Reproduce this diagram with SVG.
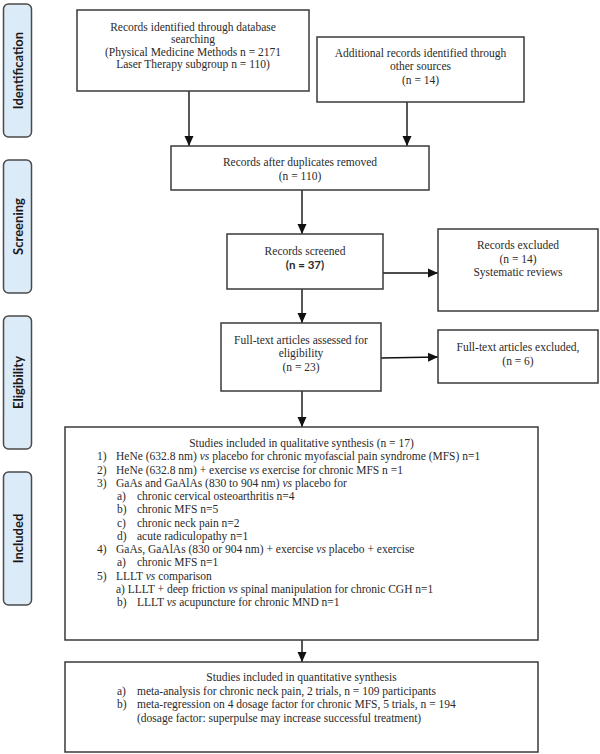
<svg xmlns="http://www.w3.org/2000/svg" width="600" height="754" viewBox="0 0 600 754">
<style>
.bg{fill:#ffffff}
.box{fill:#ffffff;stroke:#3a3a3a;stroke-width:1.5}
.pill{fill:#dcebf8;stroke:#4a4a4a;stroke-width:1.5}
.pl{font-family:Lato,"Open Sans",sans-serif;font-weight:bold;font-size:13px;fill:#1a1a1a}
.t{font-family:"Liberation Serif","Times New Roman",serif;font-size:11.5px;fill:#2a2a2a}
.c{text-anchor:middle}
.b{font-family:Lato,"Open Sans",sans-serif;font-weight:bold}
.i{font-style:italic}
.con{stroke:#111;stroke-width:1.4;fill:none}
</style>
<defs>
<marker id="ah" markerUnits="userSpaceOnUse" markerWidth="10" markerHeight="10" viewBox="0 0 10 10" refX="10" refY="5" orient="auto">
<path d="M0,0.5 L10,5 L0,9.5 Z" fill="#111"/>
</marker>
</defs>
<rect class="bg" x="0" y="0" width="600" height="754"/>

<g id="phase-identification">
<rect class="pill" x="3.5" y="4" width="28" height="133" rx="5"/>
<text class="pl c" transform="translate(18,70.5) rotate(-90)" dominant-baseline="central">Identification</text>
</g>
<g id="phase-screening">
<rect class="pill" x="3.5" y="160" width="28" height="133" rx="5"/>
<text class="pl c" transform="translate(18,226.5) rotate(-90)" dominant-baseline="central">Screening</text>
</g>
<g id="phase-eligibility">
<rect class="pill" x="3.5" y="316" width="28" height="133" rx="5"/>
<text class="pl c" transform="translate(18,382.5) rotate(-90)" dominant-baseline="central">Eligibility</text>
</g>
<g id="phase-included">
<rect class="pill" x="3.5" y="472" width="28" height="133" rx="5"/>
<text class="pl c" transform="translate(18,538.5) rotate(-90)" dominant-baseline="central">Included</text>
</g>

<g id="connectors">
<line class="con" x1="189" y1="91" x2="189" y2="146" marker-end="url(#ah)"/>
<line class="con" x1="407" y1="102" x2="407" y2="146" marker-end="url(#ah)"/>
<line class="con" x1="302" y1="190" x2="302" y2="234" marker-end="url(#ah)"/>
<line class="con" x1="378" y1="273" x2="438" y2="273" marker-end="url(#ah)"/>
<line class="con" x1="302" y1="289" x2="302" y2="323" marker-end="url(#ah)"/>
<line class="con" x1="381" y1="358" x2="438" y2="357" marker-end="url(#ah)"/>
<line class="con" x1="302" y1="391" x2="302" y2="427" marker-end="url(#ah)"/>
<line class="con" x1="302" y1="640" x2="302" y2="662" marker-end="url(#ah)"/>
</g>

<g id="records-database">
<rect class="box" x="77" y="10" width="232" height="81"/>
<text class="t c" x="193" y="31">Records identified through database</text>
<text class="t c" x="193" y="43">searching</text>
<text class="t c" x="193" y="56">(Physical Medicine Methods n = 2171</text>
<text class="t c" x="193" y="68">Laser Therapy subgroup n = 110)</text>
</g>

<g id="records-other">
<rect class="box" x="317" y="37" width="207" height="65"/>
<text class="t c" x="420.5" y="57">Additional records identified through</text>
<text class="t c" x="420.5" y="70">other sources</text>
<text class="t c" x="420.5" y="84">(n = 14)</text>
</g>

<g id="records-deduplicated">
<rect class="box" x="171" y="146" width="258" height="44"/>
<text class="t c" x="300" y="166">Records after duplicates removed</text>
<text class="t c" x="300" y="180">(n = 110)</text>
</g>

<g id="records-screened">
<rect class="box" x="227" y="234" width="156" height="55"/>
<text class="t c" x="305" y="255">Records screened</text>
<text class="t c b" x="305" y="269">(n = 37)</text>
</g>

<g id="records-excluded">
<rect class="box" x="438" y="229" width="160" height="82"/>
<text class="t c" x="518" y="249">Records excluded</text>
<text class="t c" x="518" y="263">(n = 14)</text>
<text class="t c" x="518" y="276">Systematic reviews</text>
</g>

<g id="fulltext-assessed">
<rect class="box" x="221" y="323" width="160" height="68"/>
<text class="t c" x="301" y="344">Full-text articles assessed for</text>
<text class="t c" x="301" y="357">eligibility</text>
<text class="t c" x="301" y="371">(n = 23)</text>
</g>

<g id="fulltext-excluded">
<rect class="box" x="438" y="330" width="160" height="53"/>
<text class="t c" x="518" y="351">Full-text articles excluded,</text>
<text class="t c" x="518" y="365">(n = 6)</text>
</g>

<g id="qualitative-synthesis">
<rect class="box" x="65" y="427" width="473" height="213"/>
<text class="t c" x="301.5" y="447">Studies included in qualitative synthesis (n = 17)</text>
<text class="t" x="97" y="460.3">1)</text>
<text class="t" x="116" y="460.3">HeNe (632.8 nm) <tspan class="i">vs</tspan> placebo for chronic myofascial pain syndrome (MFS) n=1</text>
<text class="t" x="97" y="473.5">2)</text>
<text class="t" x="116" y="473.5">HeNe (632.8 nm) + exercise <tspan class="i">vs</tspan> exercise for chronic MFS n =1</text>
<text class="t" x="97" y="486.8">3)</text>
<text class="t" x="116" y="486.8">GaAs and GaAlAs (830 to 904 nm) <tspan class="i">vs</tspan> placebo for</text>
<text class="t" x="117" y="500">a)</text>
<text class="t" x="137" y="500">chronic cervical osteoarthritis n=4</text>
<text class="t" x="117" y="513.3">b)</text>
<text class="t" x="137" y="513.3">chronic MFS n=5</text>
<text class="t" x="117" y="526.5">c)</text>
<text class="t" x="137" y="526.5">chronic neck pain n=2</text>
<text class="t" x="117" y="539.8">d)</text>
<text class="t" x="137" y="539.8">acute radiculopathy n=1</text>
<text class="t" x="97" y="553">4)</text>
<text class="t" x="116" y="553">GaAs, GaAlAs (830 or 904 nm) + exercise <tspan class="i">vs</tspan> placebo + exercise</text>
<text class="t" x="117" y="566.3">a)</text>
<text class="t" x="137" y="566.3">chronic MFS n=1</text>
<text class="t" x="97" y="579.5">5)</text>
<text class="t" x="116" y="579.5">LLLT <tspan class="i">vs</tspan> comparison</text>
<text class="t" x="116" y="592.8">a) LLLT + deep friction <tspan class="i">vs</tspan> spinal manipulation for chronic CGH n=1</text>
<text class="t" x="117" y="606">b)</text>
<text class="t" x="137" y="606">LLLT <tspan class="i">vs</tspan> acupuncture for chronic MND n=1</text>
</g>

<g id="quantitative-synthesis">
<rect class="box" x="65" y="662" width="473" height="90"/>
<text class="t c" x="301.5" y="681">Studies included in quantitative synthesis</text>
<text class="t" x="117" y="694.5">a)</text>
<text class="t" x="137" y="694.5">meta-analysis for chronic neck pain, 2 trials, n = 109 participants</text>
<text class="t" x="117" y="708">b)</text>
<text class="t" x="137" y="708">meta-regression on 4 dosage factor for chronic MFS, 5 trials, n = 194</text>
<text class="t" x="137" y="721.5">(dosage factor: superpulse may increase successful treatment)</text>
</g>
</svg>
